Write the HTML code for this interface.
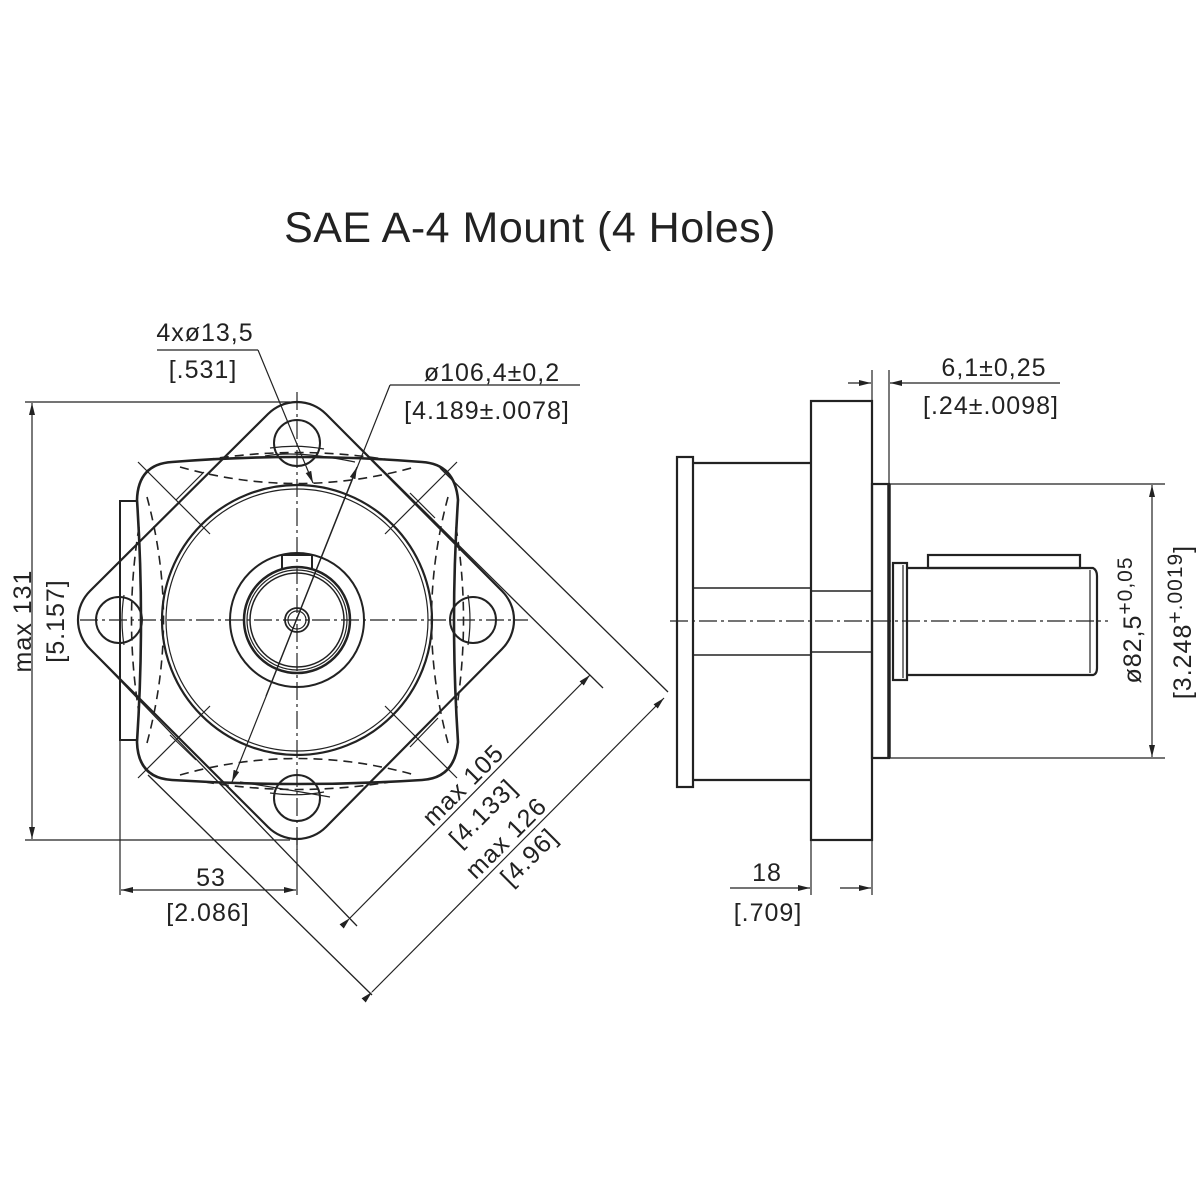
<!DOCTYPE html>
<html><head><meta charset="utf-8"><style>
html,body{margin:0;padding:0;background:#fff;}
svg{display:block;}
text{font-family:"Liberation Sans",sans-serif;fill:#222;}
</style></head><body>
<svg width="1200" height="1200" viewBox="0 0 1200 1200" xmlns="http://www.w3.org/2000/svg">
<defs>
<marker id="a" viewBox="0 0 12 6" refX="12" refY="3" markerWidth="12" markerHeight="6" markerUnits="userSpaceOnUse" orient="auto"><path d="M0,0 L12,3 L0,6 Z" fill="#222"/></marker>
</defs>
<rect width="1200" height="1200" fill="#fff"/>
<text x="530" y="242" font-size="43" text-anchor="middle" letter-spacing="0.5">SAE A-4 Mount (4 Holes)</text>

<g fill="none" stroke="#222">
<g stroke-width="1.2" stroke-dasharray="18,4,3,4">
<line x1="80" y1="620" x2="528" y2="620"/>
<line x1="297" y1="392" x2="297" y2="850"/>
</g>
<path stroke-width="2.2" d="M268,414 A41,41 0 0 1 326,414 L502,591 A41,41 0 0 1 502,649 L326,827 A41,41 0 0 1 268,827 L90,649 A41,41 0 0 1 90,591 Z"/>
<path stroke-width="2.6" d="M172,462 Q297,452 422,462 Q455,464 458,500 Q450,620 458,742 Q455,778 422,780 Q297,788 172,780 Q138,778 137,742 Q145,620 137,500 Q138,464 172,462 Z"/>
<path stroke-width="2" d="M137,501 L120,501 L120,740 L137,740"/>
<g stroke-width="1.6" stroke-dasharray="9,6">
<path d="M205,460 Q297,445 390,460"/>
<path d="M180,467 Q297,500 415,467"/>
<path d="M205,782 Q297,797 390,782"/>
<path d="M180,775 Q297,742 415,775"/>
<path d="M139,527 Q124,620 139,713"/>
<path d="M147,497 Q180,620 147,743"/>
<path d="M456,527 Q471,620 456,713"/>
<path d="M448,497 Q415,620 448,743"/>
</g>
<g stroke-width="2">
<circle cx="297" cy="443" r="23"/>
<circle cx="119" cy="620" r="23"/>
<circle cx="473" cy="620" r="23"/>
<circle cx="297" cy="798" r="23"/>
</g>
<g stroke-width="1.2">
<path d="M270,448 Q297,444 324,449"/>
<path d="M270,793 Q297,797 324,792"/>
<path d="M124,595 Q120,620 124,645"/>
<path d="M468,595 Q472,620 468,645"/>
<path d="M265,456 Q297,450 355,462"/>
<path d="M240,782 Q290,790 330,797"/>
</g>
<circle cx="297" cy="620" r="135" stroke-width="2.2"/>
<circle cx="297" cy="620" r="131" stroke-width="1.2"/>
<circle cx="297" cy="620" r="67" stroke-width="2"/>
<circle cx="297" cy="620" r="53" stroke-width="2.5"/>
<circle cx="297" cy="620" r="50" stroke-width="1.2"/>
<circle cx="297" cy="620" r="47" stroke-width="1.5"/>
<circle cx="297" cy="620" r="12" stroke-width="1.8"/>
<circle cx="297" cy="620" r="9" stroke-width="1.2"/>
<path stroke-width="2" d="M282,568 L282,555 L312,555 L312,568"/>
<g stroke-width="1.2">
<line x1="138" y1="462" x2="210" y2="534"/>
<line x1="176" y1="500" x2="204" y2="472"/>
<line x1="457" y1="462" x2="385" y2="534"/>
<line x1="410" y1="493" x2="435" y2="518"/>
<line x1="138" y1="778" x2="210" y2="706"/>
<line x1="170" y1="735" x2="196" y2="760"/>
<line x1="457" y1="778" x2="385" y2="706"/>
<line x1="410" y1="747" x2="438" y2="718"/>
</g>
<g stroke-width="1.3">
<line x1="326" y1="414" x2="603" y2="688"/>
<line x1="90" y1="649" x2="357" y2="926"/>
<line x1="440" y1="468" x2="668" y2="692"/>
<line x1="148" y1="775" x2="372" y2="995"/>
</g>
<line x1="350" y1="918" x2="590" y2="675" stroke-width="1.2" marker-start="url(#a)" marker-end="url(#a)" />
<line x1="372" y1="992" x2="664" y2="698" stroke-width="1.2" marker-start="url(#a)" marker-end="url(#a)"/>
<line x1="390" y1="385" x2="580" y2="385" stroke-width="1.2"/>
<line x1="390" y1="385" x2="232" y2="782" stroke-width="1.2" marker-end="url(#a)"/>
<line x1="266" y1="696" x2="357" y2="467" stroke-width="1.2" marker-end="url(#a)"/>
<line x1="157" y1="350" x2="258" y2="350" stroke-width="1.2"/>
<line x1="258" y1="350" x2="313" y2="483" stroke-width="1.2" marker-end="url(#a)"/>
<line x1="25" y1="402" x2="290" y2="402" stroke-width="1.2"/>
<line x1="25" y1="840" x2="290" y2="840" stroke-width="1.2"/>
<line x1="32" y1="620" x2="32" y2="403" stroke-width="1.2" marker-end="url(#a)"/>
<line x1="32" y1="620" x2="32" y2="839" stroke-width="1.2" marker-end="url(#a)"/>
<line x1="120" y1="740" x2="120" y2="895" stroke-width="1.2"/>
<line x1="297" y1="830" x2="297" y2="895" stroke-width="1.2"/>
<line x1="208" y1="890" x2="121" y2="890" stroke-width="1.2" marker-end="url(#a)"/>
<line x1="208" y1="890" x2="296" y2="890" stroke-width="1.2" marker-end="url(#a)"/>

<g stroke-width="2.2">
<rect x="677" y="457" width="16" height="330"/>
<path d="M693,463 L811,463 M693,780 L811,780"/>
<path stroke-width="1.6" d="M693,588 L811,588 M693,655 L811,655 M811,591 L872,591 M811,652 L872,652"/>
<rect x="811" y="401" width="61" height="439"/>
<rect x="872" y="484" width="17" height="274"/>
<line x1="889" y1="484" x2="889" y2="758" stroke-width="3.5"/>
<rect x="893" y="563" width="14" height="117"/>
<path d="M907,568 L1093,568 Q1097,570 1097,576 L1097,668 Q1097,674 1093,675 L907,675"/>
<line x1="1090" y1="570" x2="1090" y2="673" stroke-width="1.2"/>
<line x1="903" y1="565" x2="903" y2="678" stroke-width="1.2"/>
<rect x="928" y="555" width="152" height="13"/>
</g>
<line x1="670" y1="621" x2="1108" y2="621" stroke-width="1.2" stroke-dasharray="18,4,3,4"/>
<g stroke-width="1.2">
<line x1="872" y1="370" x2="872" y2="401"/>
<line x1="889" y1="370" x2="889" y2="484"/>
<line x1="889" y1="484" x2="1165" y2="484"/>
<line x1="889" y1="758" x2="1165" y2="758"/>
<line x1="811" y1="840" x2="811" y2="895"/>
<line x1="872" y1="840" x2="872" y2="895"/>
<line x1="1060" y1="383" x2="890" y2="383" marker-end="url(#a)"/>
<line x1="848" y1="383" x2="871" y2="383" marker-end="url(#a)"/>
<line x1="730" y1="888" x2="810" y2="888" marker-end="url(#a)"/>
<line x1="840" y1="888" x2="871" y2="888" marker-end="url(#a)"/>
<line x1="1152" y1="621" x2="1152" y2="485" marker-end="url(#a)"/>
<line x1="1152" y1="621" x2="1152" y2="757" marker-end="url(#a)"/>
</g>
</g>

<g font-size="25" letter-spacing="1">
<text x="205" y="341" text-anchor="middle">4xø13,5</text>
<text x="203" y="378" text-anchor="middle">[.531]</text>
<text x="492" y="381" text-anchor="middle">ø106,4±0,2</text>
<text x="487" y="419" text-anchor="middle">[4.189±.0078]</text>
<text x="994" y="376" text-anchor="middle">6,1±0,25</text>
<text x="991" y="414" text-anchor="middle">[.24±.0098]</text>
<text x="767" y="881" text-anchor="middle">18</text>
<text x="768" y="921" text-anchor="middle">[.709]</text>
<text x="211" y="886" text-anchor="middle">53</text>
<text x="208" y="921" text-anchor="middle">[2.086]</text>
<text transform="translate(31,621) rotate(-90)" text-anchor="middle">max 131</text>
<text transform="translate(64,621) rotate(-90)" text-anchor="middle">[5.157]</text>
<text transform="translate(1141,620) rotate(-90)" text-anchor="middle">ø82,5<tspan dy="-9" font-size="21">+0,05</tspan></text>
<text transform="translate(1191,622) rotate(-90)" text-anchor="middle">[3.248<tspan dy="-9" font-size="21">+.0019</tspan><tspan dy="9">]</tspan></text>
<text transform="translate(469,791) rotate(-45)" text-anchor="middle">max 105</text>
<text transform="translate(489,819) rotate(-45)" text-anchor="middle">[4.133]</text>
<text transform="translate(512,844) rotate(-45)" text-anchor="middle">max 126</text>
<text transform="translate(535,863) rotate(-45)" text-anchor="middle">[4.96]</text>
</g>
</svg>
</body></html>
